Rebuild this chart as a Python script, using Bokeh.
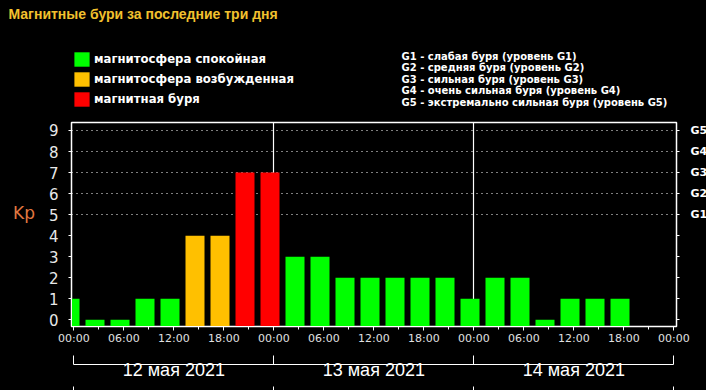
from bokeh.plotting import figure
from bokeh.layouts import column
from bokeh.models import (FixedTicker, LinearAxis, Legend, LegendItem,
                          ColumnDataSource, Range1d)
from bokeh.core.properties import value
from bokeh.embed import file_html
from bokeh.resources import INLINE

# ---------------- data ----------------
title_text = "Магнитные бури за последние три дня"
legend_labels = ["магнитосфера спокойная", "магнитосфера возбужденная", "магнитная буря"]
status_colors = ["#00ff00", "#ffc000", "#ff0000"]
g_notes = [
    "G1 - слабая буря (уровень G1)",
    "G2 - средняя буря (уровень G2)",
    "G3 - сильная буря (уровень G3)",
    "G4 - очень сильная буря (уровень G4)",
    "G5 - экстремально сильная буря (уровень G5)",
]
g_levels = [5, 6, 7, 8, 9]
g_names = ["G1", "G2", "G3", "G4", "G5"]

# hours since 12 May 2021 00:00, 3-hour Kp values
bar_hours = [0, 3, 6, 9, 12, 15, 18, 21, 24, 27, 30, 33, 36, 39, 42, 45,
             48, 51, 54, 57, 60, 63, 66]
kp_values = [1, 0, 0, 1, 1, 4, 4, 7, 7, 3, 3, 2, 2, 2, 2, 2,
             1, 2, 2, 0, 1, 1, 1]

time_ticks = [0, 6, 12, 18, 24, 30, 36, 42, 48, 54, 60, 66, 72]
time_labels = ["00:00", "06:00", "12:00", "18:00", "00:00", "06:00", "12:00",
               "18:00", "00:00", "06:00", "12:00", "18:00", "00:00"]
time_minor = [3, 9, 15, 21, 27, 33, 39, 45, 51, 57, 63, 69]
day_bounds = [0, 24, 48, 72]
day_centers = [12, 36, 60]
day_labels = ["12 мая 2021", "13 мая 2021", "14 мая 2021"]
kp_ticks = [0, 1, 2, 3, 4, 5, 6, 7, 8, 9]

# ---------------- styles ----------------
W = 706
TOP_H = 120
BAR_OFFSET = -0.46
BAR_WIDTH = 2.28
Y0 = -0.32
OFFSCREEN = -100  # legend-only renderers sit outside the header's view


def status_of(v):
    if v >= 5:
        return 2
    if v >= 4:
        return 1
    return 0


# ---------------- header figure (title, legends) ----------------
top = figure(width=W, height=TOP_H, output_backend="svg", toolbar_location=None,
             x_range=Range1d(0, W), y_range=Range1d(TOP_H, 0),
             x_axis_location=None, y_axis_location=None,
             background_fill_color="black", border_fill_color="black",
             min_border=0)
top.outline_line_color = "black"
top.outline_line_alpha = 0
top.xgrid.visible = False
top.ygrid.visible = False
top.frame_align = False

top.text(x=[8], y=[13.5], text=[title_text], text_baseline="middle",
         text_color="#f2c12e", text_font=value("Liberation Sans"),
         text_font_style="bold", text_font_size="14px")

note_src = ColumnDataSource(dict(x=[401] * len(g_notes),
                                 y=[56 + i * 11.45 for i in range(len(g_notes))],
                                 text=g_notes))
top.text(x="x", y="y", text="text", source=note_src, text_baseline="middle",
         text_color="white", text_font=value("DejaVu Sans"),
         text_font_style="bold", text_font_size="10px")

swatches = [top.vbar(x=[OFFSCREEN], top=[OFFSCREEN], width=1, fill_color=c,
                     line_color=None) for c in status_colors]
legend = Legend(items=[LegendItem(label=lbl, renderers=[r], index=0)
                       for lbl, r in zip(legend_labels, swatches)],
                location=(72, 12), padding=0, margin=0,
                border_line_color=None, background_fill_alpha=0,
                glyph_width=19, glyph_height=18, label_height=18, spacing=2,
                label_standoff=3, label_text_color="white",
                label_text_font="DejaVu Sans", label_text_font_style="bold",
                label_text_font_size="11.7px")
top.add_layout(legend, "center")

# ---------------- main chart ----------------
statuses = [status_of(v) for v in kp_values]
src = ColumnDataSource(dict(
    x=[h + BAR_OFFSET for h in bar_hours],
    top=kp_values,
    color=[status_colors[s] for s in statuses],
))

p = figure(frame_width=605, frame_height=204, output_backend="svg",
           toolbar_location=None,
           x_range=Range1d(-0.28, 72.32), y_range=Range1d(Y0, 9.38),
           background_fill_color="black", border_fill_color="black",
           min_border_left=71, min_border_right=30, min_border_top=2,
           min_border_bottom=0)
p.frame_align = False
p.outline_line_color = "white"
p.outline_line_width = 1.5

# grids
p.xgrid.ticker = FixedTicker(ticks=[24, 48])
p.xgrid.grid_line_color = "white"
p.xgrid.grid_line_width = 1.2
p.ygrid.ticker = FixedTicker(ticks=g_levels)
p.ygrid.grid_line_color = "white"
p.ygrid.grid_line_dash = "1 4"
p.ygrid.grid_line_width = 1

p.vbar(x="x", width=BAR_WIDTH, bottom=Y0, top="top", source=src,
       fill_color="color", line_color=None)

# left axis with Kp label
ya = p.yaxis[0]
ya.ticker = FixedTicker(ticks=kp_ticks)
ya.axis_line_color = "white"
ya.major_tick_line_color = "white"
ya.major_tick_out = 3
ya.major_tick_in = 0
ya.minor_tick_line_color = None
ya.major_label_standoff = 10
ya.major_label_text_color = "#e8e8e8"
ya.major_label_text_font = "DejaVu Sans"
ya.major_label_text_font_size = "15px"
ya.axis_label = "Kp\n"
ya.axis_label_orientation = "horizontal"
ya.axis_label_standoff = 11
ya.axis_label_text_color = "#e07840"
ya.axis_label_text_font = "DejaVu Sans"
ya.axis_label_text_font_style = "normal"
ya.axis_label_text_font_size = "17px"

# right axis (G levels)
ra = LinearAxis(ticker=FixedTicker(ticks=kp_ticks),
                major_label_overrides={lv: nm for lv, nm in zip(g_levels, g_names)} |
                {t: "" for t in kp_ticks if t not in g_levels})
ra.axis_line_color = "white"
ra.major_tick_line_color = "white"
ra.major_tick_out = 3
ra.major_tick_in = 0
ra.minor_tick_line_color = None
ra.major_label_standoff = 11
ra.major_label_text_color = "white"
ra.major_label_text_font = "DejaVu Sans"
ra.major_label_text_font_style = "bold"
ra.major_label_text_font_size = "11px"
p.add_layout(ra, "right")

# bottom time axis
xa = p.xaxis[0]
xa.ticker = FixedTicker(ticks=time_ticks, minor_ticks=time_minor)
xa.major_label_overrides = {t: l for t, l in zip(time_ticks, time_labels)}
xa.axis_line_color = "white"
xa.major_tick_line_color = "white"
xa.minor_tick_line_color = "white"
xa.major_tick_out = 4
xa.major_tick_in = 0
xa.minor_tick_out = 3
xa.minor_tick_in = 0
xa.major_label_standoff = 1
xa.major_label_text_color = "#e0e0e0"
xa.major_label_text_font = "DejaVu Sans"
xa.major_label_text_font_size = "11px"
xa.axis_label = " "
xa.axis_label_standoff = 0
xa.axis_label_text_font_size = "12px"

# day bracket with dates
da = LinearAxis(ticker=FixedTicker(ticks=day_centers, minor_ticks=day_bounds),
                bounds=(0, 72),
                major_label_overrides={c: l for c, l in zip(day_centers, day_labels)})
da.axis_line_color = "white"
da.axis_line_width = 1.2
da.major_tick_line_color = None
da.major_tick_out = 0
da.major_tick_in = 0
da.minor_tick_line_color = "white"
da.minor_tick_in = 9
da.minor_tick_out = 0
da.major_label_standoff = -5
da.major_label_text_color = "white"
da.major_label_text_font = "Liberation Sans"
da.major_label_text_font_size = "18px"
da.axis_label = " "
da.axis_label_standoff = 0
da.axis_label_text_font_size = "6px"
p.add_layout(da, "below")

# bottom bracket line
ba = LinearAxis(ticker=FixedTicker(ticks=[], minor_ticks=day_bounds), bounds=(0, 72))
ba.axis_line_color = "white"
ba.axis_line_width = 1.2
ba.major_tick_line_color = None
ba.major_tick_out = 0
ba.major_tick_in = 0
ba.minor_tick_line_color = "white"
ba.minor_tick_in = 5
ba.minor_tick_out = 0
ba.major_label_text_font_size = "0px"
ba.major_label_standoff = 0
p.add_layout(ba, "below")

layout = column(top, p, spacing=0)
layout.styles = {"background-color": "black"}
html = file_html(layout, INLINE)
html = html.replace("<head>", "<head>\n<style>html, body { background: black; }</style>", 1)
open("out.html", "w").write(html)
